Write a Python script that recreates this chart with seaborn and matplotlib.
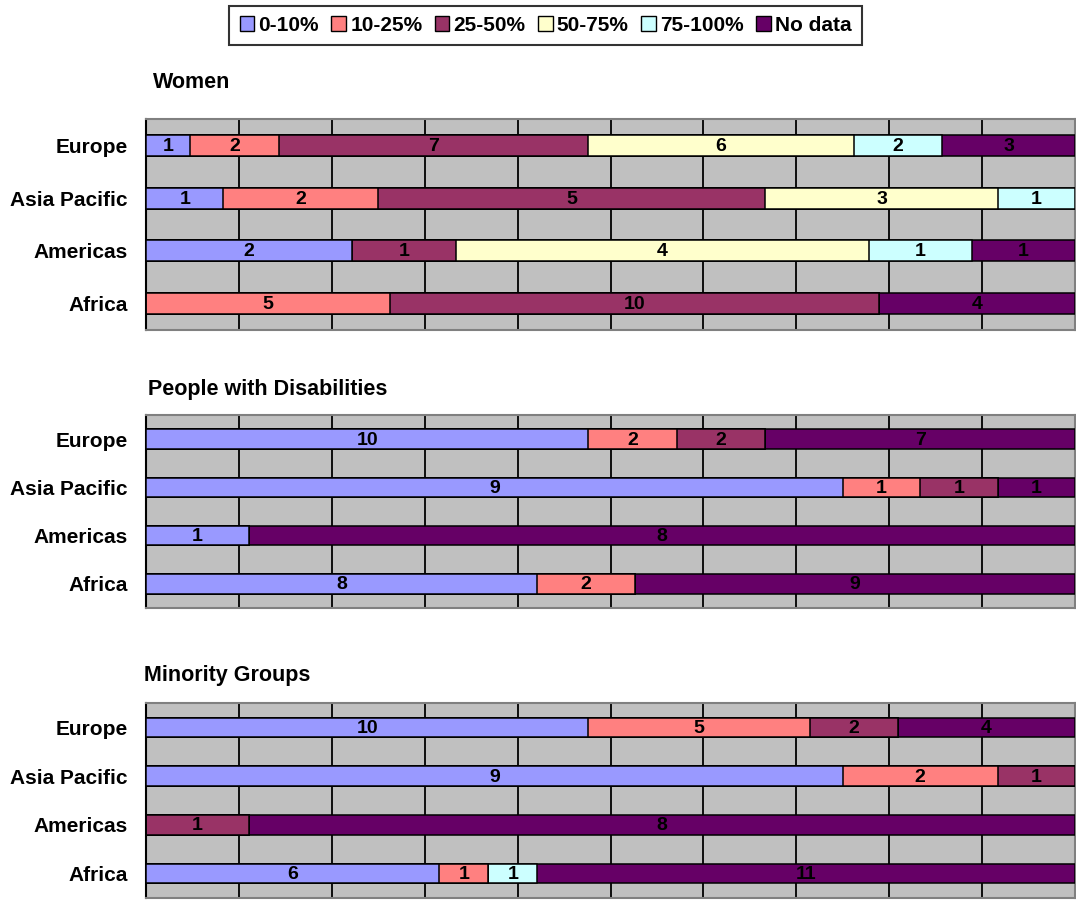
import numpy as np
import pandas as pd
import matplotlib
matplotlib.use("Agg")
import matplotlib.pyplot as plt
from matplotlib.patches import Patch
from matplotlib.ticker import FixedLocator, NullFormatter
import seaborn as sns

regions = ["Europe", "Asia Pacific", "Americas", "Africa"]
categories = ["0-10%", "10-25%", "25-50%", "50-75%", "75-100%", "No data"]
colors = ["#9999FF", "#FF8080", "#993366", "#FFFFCC", "#CCFFFF", "#660066"]

panel_titles = ["Women", "People with Disabilities", "Minority Groups"]

# counts per region (rows) and category (columns)
women = [
    [1, 2, 7, 6, 2, 3],
    [1, 2, 5, 3, 1, 0],
    [2, 0, 1, 4, 1, 1],
    [0, 5, 10, 0, 0, 4],
]
disabilities = [
    [10, 2, 2, 0, 0, 7],
    [9, 1, 1, 0, 0, 1],
    [1, 0, 0, 0, 0, 8],
    [8, 2, 0, 0, 0, 9],
]
minority = [
    [10, 5, 2, 0, 0, 4],
    [9, 2, 1, 0, 0, 0],
    [0, 0, 1, 0, 0, 8],
    [6, 1, 0, 0, 1, 11],
]
panels = [women, disabilities, minority]

sns.set_style("white")
plt.rcParams["font.family"] = ["Liberation Sans", "DejaVu Sans"]
plt.rcParams["font.weight"] = "bold"
plt.rcParams["text.color"] = "black"
plt.rcParams["axes.labelcolor"] = "black"
plt.rcParams["xtick.color"] = "black"
plt.rcParams["ytick.color"] = "black"

W, H = 1076, 900
fig = plt.figure(figsize=(W / 100, H / 100), dpi=100)

# axes boxes in pixels: (left, top, right, bottom)
boxes = [(146, 119, 1075, 330), (146, 415, 1075, 608), (146, 703, 1075, 898)]
title_pos = [(153, 83), (148, 389), (144, 676)]

for data, title, box, tp in zip(panels, panel_titles, boxes, title_pos):
    l, t, r, b = box
    ax = fig.add_axes([l / W, 1 - b / H, (r - l) / W, (b - t) / H])
    ax.set_facecolor("#C0C0C0")
    arr = np.array(data, dtype=float)
    totals = arr.sum(axis=1, keepdims=True)
    prop = arr / totals
    cum = np.cumsum(prop, axis=1)
    rows = []
    for i, reg in enumerate(regions):
        for j, cat in enumerate(categories):
            rows.append({"region": reg, "category": cat, "cum": cum[i, j],
                         "prop": prop[i, j], "count": arr[i, j]})
    df = pd.DataFrame(rows)
    for j in range(len(categories) - 1, -1, -1):
        sub = df[df["category"] == categories[j]]
        sns.barplot(data=sub, x="cum", y="region", order=regions, orient="h",
                    color=colors[j], saturation=1, width=0.4,
                    edgecolor="black", linewidth=1.1, ax=ax, errorbar=None,
                    zorder=3)
    # labels
    for _, row in df.iterrows():
        if row["count"] > 0:
            yi = regions.index(row["region"])
            xc = row["cum"] - row["prop"] / 2
            ax.text(xc, yi + 0.02, f"{int(row['count'])}", ha="center", va="center",
                    fontsize=14, fontweight="bold", color="black", zorder=5)
    ax.set_xlim(0, 1)
    ax.set_ylim(3.5, -0.5)
    ax.set_xlabel("")
    ax.set_ylabel("")
    ax.set_xticks(np.arange(0, 1.001, 0.1))
    ax.set_xticklabels([])
    ax.tick_params(axis="x", length=0)
    ax.set_axisbelow(True)
    ax.grid(axis="x", color="black", linewidth=1.3)
    ax.grid(axis="y", visible=False)
    ax.set_yticks(range(len(regions)))
    ax.set_yticklabels(regions, fontsize=15, fontweight="bold", color="black")
    ax.tick_params(axis="y", which="major", length=0, pad=13)
    ax.yaxis.set_minor_locator(FixedLocator(np.arange(-0.5, 3.51, 1.0)))
    ax.yaxis.set_minor_formatter(NullFormatter())
    ax.tick_params(axis="y", which="minor", length=6, width=1.5, color="black",
                   direction="out")
    for s in ["top", "right", "bottom"]:
        ax.spines[s].set_color("#808080")
        ax.spines[s].set_linewidth(1.5)
        ax.spines[s].set_visible(True)
    ax.spines["left"].set_color("black")
    ax.spines["left"].set_linewidth(1.5)
    ax.spines["left"].set_visible(True)
    fig.text(tp[0] / W, 1 - tp[1] / H, title, ha="left", va="center",
             fontsize=15.5, fontweight="bold", color="black")

handles = [Patch(facecolor=c, edgecolor="black", linewidth=1.0) for c in colors]
leg = fig.legend(handles, categories, loc="center", bbox_to_anchor=(545.5 / W, 1 - 25.5 / H),
                 ncol=6, frameon=True, fancybox=False, edgecolor="black",
                 prop={"size": 15, "weight": "bold"}, handlelength=0.7,
                 handleheight=0.7, handletextpad=0.2, columnspacing=0.6,
                 borderpad=0.5, borderaxespad=0)
leg.get_frame().set_linewidth(1.5)
for txt in leg.get_texts():
    txt.set_color("black")

fig.savefig("out.png", dpi=100)
